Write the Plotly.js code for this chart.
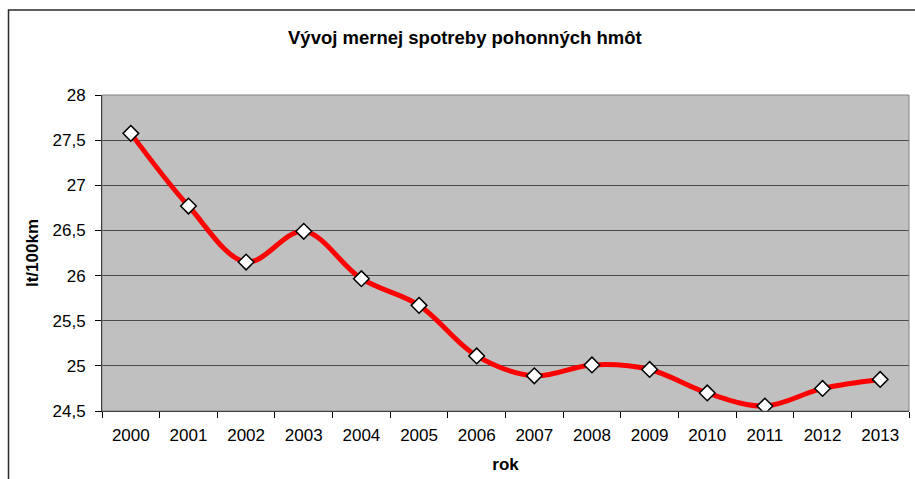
<!DOCTYPE html>
<html>
<head>
<meta charset="utf-8">
<script src="https://cdn.plot.ly/plotly-3.0.1.min.js"></script>
<style>html,body{margin:0;padding:0;background:#fff;}#chart{width:915px;height:479px;}</style>
</head>
<body>
<div id="chart"></div>
<script>
const years = ['2000','2001','2002','2003','2004','2005','2006','2007','2008','2009','2010','2011','2012','2013'];
const consumption = [27.575, 26.77, 26.15, 26.49, 25.965, 25.67, 25.11, 24.89, 25.01, 24.96, 24.70, 24.555, 24.75, 24.85];
const yTicks = [24.5, 25, 25.5, 26, 26.5, 27, 27.5, 28];

const font = 'Liberation Sans, Arial, sans-serif';

const trace = {
  x: years,
  y: consumption,
  type: 'scatter',
  mode: 'lines+markers',
  line: {color: '#ff0000', width: 5, shape: 'spline', smoothing: 1},
  marker: {symbol: 'diamond', size: 12, color: '#ffffff', line: {color: '#000000', width: 1.5}},
  hoverinfo: 'x+y'
};

const layout = {
  width: 915, height: 479,
  margin: {l: 102, r: 6, t: 95, b: 68},
  paper_bgcolor: '#ffffff',
  plot_bgcolor: '#c0c0c0',
  separators: ',.',
  showlegend: false,
  font: {family: font, color: '#000', size: 17},
  title: {text: '<b>Vývoj mernej spotreby pohonných hmôt</b>', font: {family: font, size: 18.5, color: '#000'}, x: 0.508, xanchor: 'center', y: 0.921, yanchor: 'middle'},
  xaxis: {
    type: 'category',
    tickson: 'boundaries',
    ticks: 'outside', ticklen: 6, tickcolor: '#000', tickwidth: 1,
    showline: true, linecolor: '#000', linewidth: 1,
    showgrid: false,
    tickfont: {family: font, size: 17, color: '#000'},
    ticklabelstandoff: 9,
    title: {text: '<b>rok</b>', font: {family: font, size: 17, color: '#000'}, standoff: 13},
    range: [-0.5, 13.5],
    fixedrange: true
  },
  yaxis: {
    range: [24.5, 28],
    tickvals: yTicks,
    ticks: 'outside', ticklen: 6, tickcolor: '#000', tickwidth: 1,
    showline: true, linecolor: '#000', linewidth: 1,
    showgrid: true, gridcolor: '#4a4a4a', gridwidth: 1,
    zeroline: false,
    tickfont: {family: font, size: 17, color: '#000'},
    ticklabelstandoff: 6,
    title: {text: '<b>lt/100km</b>', font: {family: font, size: 17, color: '#000'}, standoff: 9},
    fixedrange: true
  },
  shapes: [
    {type: 'rect', xref: 'paper', yref: 'paper', x0: 0, x1: 1, y0: 0, y1: 1, line: {color: '#808080', width: 1}, layer: 'above'},
    {type: 'rect', xref: 'paper', yref: 'paper', x0: (8.5 - 102) / 807, x1: 2, y0: -1, y1: (411 - 10) / 316, line: {color: '#2a2a2a', width: 1.5}, layer: 'above'}
  ]
};

Plotly.newPlot('chart', [trace], layout, {displayModeBar: false, staticPlot: true});
</script>
</body>
</html>
